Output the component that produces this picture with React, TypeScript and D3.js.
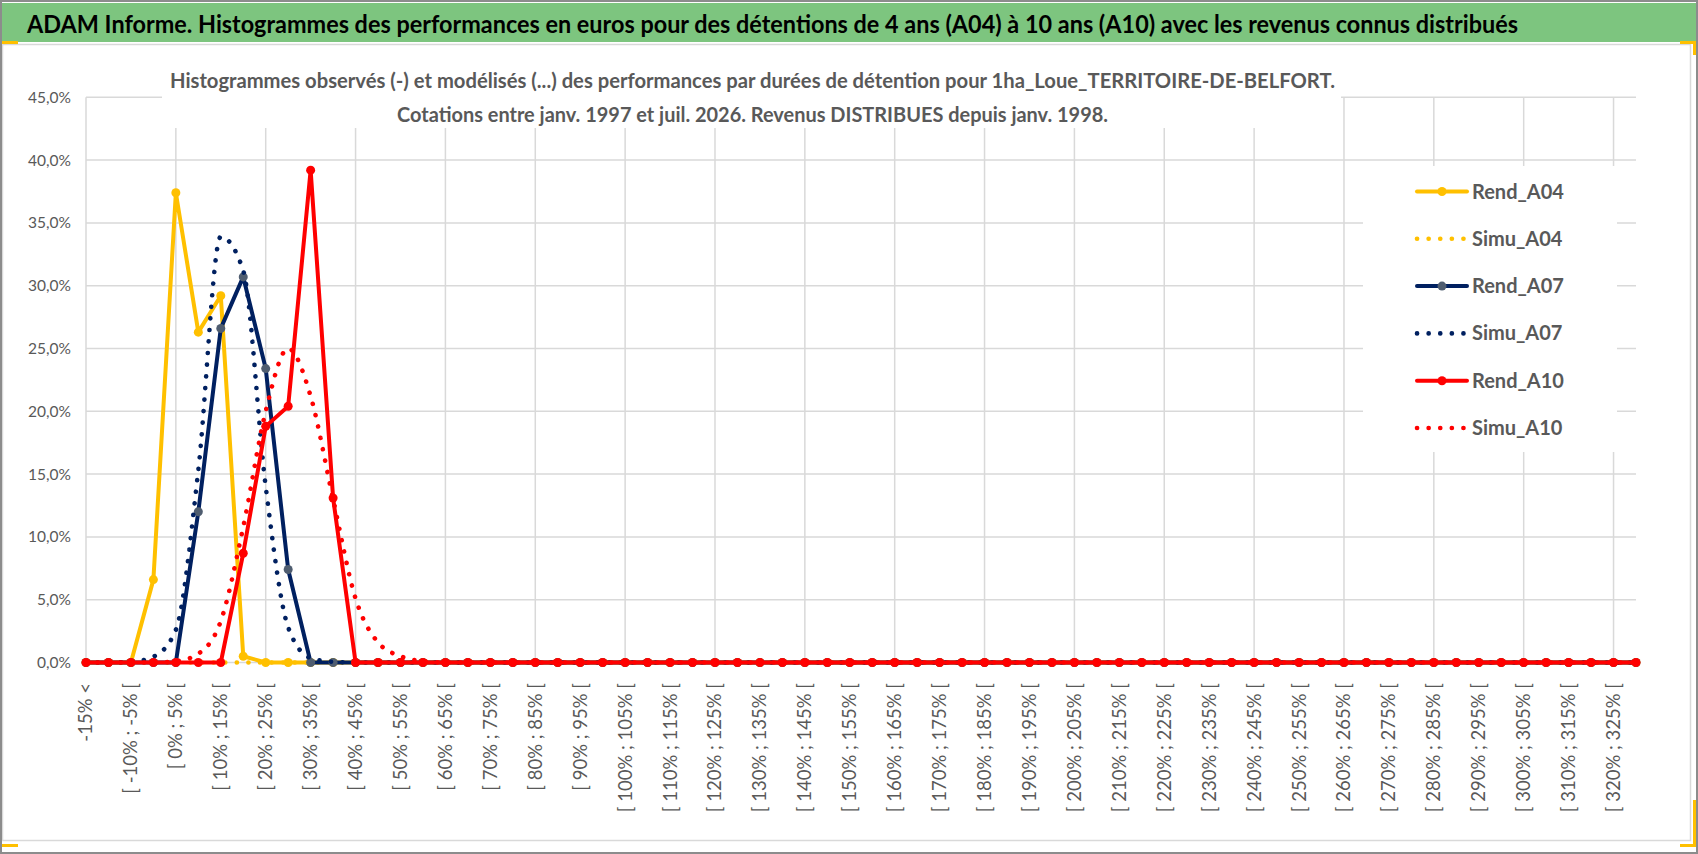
import { useEffect, useRef } from 'react';
import * as d3 from 'd3';

const WIDTH = 1698;
const HEIGHT = 854;

const TITLE = 'ADAM Informe. Histogrammes des performances en euros pour des détentions de 4 ans (A04) à 10 ans (A10) avec les revenus connus distribués';
const SUBTITLE_1 = 'Histogrammes observés (-) et modélisés (...) des performances par durées de détention pour 1ha_Loue_TERRITOIRE-DE-BELFORT.';
const SUBTITLE_2 = 'Cotations entre janv. 1997 et juil. 2026. Revenus DISTRIBUES depuis janv. 1998.';

const CATEGORIES = [
  '-15% <', '[ -15% ; -10% [', '[ -10% ; -5% [', '[ -5% ; 0% [', '[ 0% ; 5% [',
  '[ 5% ; 10% [', '[ 10% ; 15% [', '[ 15% ; 20% [', '[ 20% ; 25% [', '[ 25% ; 30% [',
  '[ 30% ; 35% [', '[ 35% ; 40% [', '[ 40% ; 45% [', '[ 45% ; 50% [', '[ 50% ; 55% [',
  '[ 55% ; 60% [', '[ 60% ; 65% [', '[ 65% ; 70% [', '[ 70% ; 75% [', '[ 75% ; 80% [',
  '[ 80% ; 85% [', '[ 85% ; 90% [', '[ 90% ; 95% [', '[ 95% ; 100% [', '[ 100% ; 105% [',
  '[ 105% ; 110% [', '[ 110% ; 115% [', '[ 115% ; 120% [', '[ 120% ; 125% [', '[ 125% ; 130% [',
  '[ 130% ; 135% [', '[ 135% ; 140% [', '[ 140% ; 145% [', '[ 145% ; 150% [', '[ 150% ; 155% [',
  '[ 155% ; 160% [', '[ 160% ; 165% [', '[ 165% ; 170% [', '[ 170% ; 175% [', '[ 175% ; 180% [',
  '[ 180% ; 185% [', '[ 185% ; 190% [', '[ 190% ; 195% [', '[ 195% ; 200% [', '[ 200% ; 205% [',
  '[ 205% ; 210% [', '[ 210% ; 215% [', '[ 215% ; 220% [', '[ 220% ; 225% [', '[ 225% ; 230% [',
  '[ 230% ; 235% [', '[ 235% ; 240% [', '[ 240% ; 245% [', '[ 245% ; 250% [', '[ 250% ; 255% [',
  '[ 255% ; 260% [', '[ 260% ; 265% [', '[ 265% ; 270% [', '[ 270% ; 275% [', '[ 275% ; 280% [',
  '[ 280% ; 285% [', '[ 285% ; 290% [', '[ 290% ; 295% [', '[ 295% ; 300% [', '[ 300% ; 305% [',
  '[ 305% ; 310% [', '[ 310% ; 315% [', '[ 315% ; 320% [', '[ 320% ; 325% [', '[ 325% ; 330% [',
];

// values in %, one per category
const REND_A04 = [
  0, 0, 0, 6.6, 37.4, 26.3, 29.2, 0.5, 0, 0,
  0, 0, 0, 0, 0, 0, 0, 0, 0, 0,
  0, 0, 0, 0, 0, 0, 0, 0, 0, 0,
  0, 0, 0, 0, 0, 0, 0, 0, 0, 0,
  0, 0, 0, 0, 0, 0, 0, 0, 0, 0,
  0, 0, 0, 0, 0, 0, 0, 0, 0, 0,
  0, 0, 0, 0, 0, 0, 0, 0, 0, 0,
];
const SIMU_A04 = [
  0, 0, 0, 0, 0, 0, 0, 0, 0, 0,
  0, 0, 0, 0, 0, 0, 0, 0, 0, 0,
  0, 0, 0, 0, 0, 0, 0, 0, 0, 0,
  0, 0, 0, 0, 0, 0, 0, 0, 0, 0,
  0, 0, 0, 0, 0, 0, 0, 0, 0, 0,
  0, 0, 0, 0, 0, 0, 0, 0, 0, 0,
  0, 0, 0, 0, 0, 0, 0, 0, 0, 0,
];
const REND_A07 = [
  0, 0, 0, 0, 0, 12.0, 26.6, 30.7, 23.4, 7.4,
  0, 0, 0, 0, 0, 0, 0, 0, 0, 0,
  0, 0, 0, 0, 0, 0, 0, 0, 0, 0,
  0, 0, 0, 0, 0, 0, 0, 0, 0, 0,
  0, 0, 0, 0, 0, 0, 0, 0, 0, 0,
  0, 0, 0, 0, 0, 0, 0, 0, 0, 0,
  0, 0, 0, 0, 0, 0, 0, 0, 0, 0,
];
const SIMU_A07 = [
  0, 0, 0.05, 0.46, 2.6, 15.3, 33.9, 31.2, 14.0, 2.8,
  0.35, 0.05, 0, 0, 0, 0, 0, 0, 0, 0,
  0, 0, 0, 0, 0, 0, 0, 0, 0, 0,
  0, 0, 0, 0, 0, 0, 0, 0, 0, 0,
  0, 0, 0, 0, 0, 0, 0, 0, 0, 0,
  0, 0, 0, 0, 0, 0, 0, 0, 0, 0,
  0, 0, 0, 0, 0, 0, 0, 0, 0, 0,
];
const REND_A10 = [
  0, 0, 0, 0, 0, 0, 0, 8.7, 18.8, 20.4,
  39.2, 13.1, 0, 0, 0, 0, 0, 0, 0, 0,
  0, 0, 0, 0, 0, 0, 0, 0, 0, 0,
  0, 0, 0, 0, 0, 0, 0, 0, 0, 0,
  0, 0, 0, 0, 0, 0, 0, 0, 0, 0,
  0, 0, 0, 0, 0, 0, 0, 0, 0, 0,
  0, 0, 0, 0, 0, 0, 0, 0, 0, 0,
];
const SIMU_A10 = [
  0, 0, 0, 0, 0.1, 0.7, 3.3, 10.8, 20.0, 25.0,
  21.2, 13.0, 5.1, 1.6, 0.5, 0.1, 0, 0, 0, 0,
  0, 0, 0, 0, 0, 0, 0, 0, 0, 0,
  0, 0, 0, 0, 0, 0, 0, 0, 0, 0,
  0, 0, 0, 0, 0, 0, 0, 0, 0, 0,
  0, 0, 0, 0, 0, 0, 0, 0, 0, 0,
  0, 0, 0, 0, 0, 0, 0, 0, 0, 0,
];

const Y_TICKS = [0, 5, 10, 15, 20, 25, 30, 35, 40, 45];

interface Series {
  name: string;
  values: number[];
  color: string;
  dotted: boolean;
  marker?: string;
}

const SERIES: Series[] = [
  { name: 'Rend_A04', values: REND_A04, color: '#FFC000', dotted: false, marker: '#FFC000' },
  { name: 'Simu_A04', values: SIMU_A04, color: '#FFC000', dotted: true },
  { name: 'Rend_A07', values: REND_A07, color: '#002060', dotted: false, marker: '#4f5d70' },
  { name: 'Simu_A07', values: SIMU_A07, color: '#002060', dotted: true },
  { name: 'Rend_A10', values: REND_A10, color: '#FF0000', dotted: false, marker: '#FF0000' },
  { name: 'Simu_A10', values: SIMU_A10, color: '#FF0000', dotted: true },
];

const PLOT = { left: 86, right: 1636, top: 97.3, bottom: 662.5 };
const GRID = '#d9d9d9';
const TEXT = '#595959';
const FONT = 'Lato, "Open Sans", sans-serif';

export default function App() {
  const svgRef = useRef<SVGSVGElement>(null);

  useEffect(() => {
    document.body.style.margin = '0';
    if (!svgRef.current) return;
    const svg = d3.select(svgRef.current);
    svg.selectAll('*').remove();

    const x = d3.scalePoint<string>().domain(CATEGORIES).range([PLOT.left, PLOT.right]);
    const y = d3.scaleLinear().domain([0, 45]).range([PLOT.bottom, PLOT.top]);

    svg.append('rect').attr('width', WIDTH).attr('height', HEIGHT).attr('fill', '#fff');

    // banner
    svg.append('rect')
      .attr('x', 2).attr('y', 3).attr('width', 1694).attr('height', 39)
      .attr('fill', '#7dc57f');
    svg.append('text')
      .attr('x', 27).attr('y', 33)
      .attr('font-family', FONT).attr('font-weight', 700).attr('font-size', 25)
      .attr('fill', '#000')
      .attr('textLength', 1491).attr('lengthAdjust', 'spacingAndGlyphs')
      .text(TITLE);

    // chart area
    svg.append('rect')
      .attr('x', 2.5).attr('y', 44.5).attr('width', 1688).attr('height', 796)
      .attr('fill', 'none').attr('stroke', GRID).attr('stroke-width', 1.5);

    // gridlines
    const grid = svg.append('g');
    grid.selectAll('line.h')
      .data(Y_TICKS)
      .join('line')
      .attr('class', 'h')
      .attr('x1', PLOT.left).attr('x2', PLOT.right)
      .attr('y1', d => y(d)).attr('y2', d => y(d))
      .attr('stroke', GRID).attr('stroke-width', 1.5);
    grid.selectAll('line.v')
      .data(CATEGORIES.filter((_, i) => i % 4 === 0))
      .join('line')
      .attr('class', 'v')
      .attr('x1', d => x(d)!).attr('x2', d => x(d)!)
      .attr('y1', PLOT.top).attr('y2', PLOT.bottom)
      .attr('stroke', GRID).attr('stroke-width', 1.5);

    // title box and legend box hide the grid behind them
    svg.append('rect').attr('x', 162).attr('y', 50).attr('width', 1179).attr('height', 78).attr('fill', '#fff');
    svg.append('rect').attr('x', 1363).attr('y', 166).attr('width', 254).attr('height', 286).attr('fill', '#fff');

    [SUBTITLE_1, SUBTITLE_2].forEach((t, i) => {
      svg.append('text')
        .attr('x', 752.5).attr('y', i === 0 ? 88 : 122)
        .attr('text-anchor', 'middle')
        .attr('font-family', FONT).attr('font-weight', 700).attr('font-size', 21)
        .attr('fill', TEXT)
        .attr('textLength', i === 0 ? 1165 : 711).attr('lengthAdjust', 'spacingAndGlyphs')
        .text(t);
    });

    // y axis labels
    svg.append('g').selectAll('text')
      .data(Y_TICKS)
      .join('text')
      .attr('x', 71).attr('y', d => y(d)).attr('dy', '0.35em')
      .attr('text-anchor', 'end')
      .attr('font-family', FONT).attr('font-size', 15.5).attr('fill', TEXT)
      .text(d => d3.format('.1f')(d).replace('.', ',') + '%');

    // x axis labels, one in two
    svg.append('g').selectAll('text')
      .data(CATEGORIES.filter((_, i) => i % 2 === 0))
      .join('text')
      .attr('transform', d => `translate(${x(d)},683) rotate(-90)`)
      .attr('dy', '0.35em')
      .attr('text-anchor', 'end')
      .attr('font-family', FONT).attr('font-size', 18.5).attr('fill', TEXT)
      .text(d => d);

    // series
    const solid = d3.line<number>()
      .x((_, i) => x(CATEGORIES[i])!)
      .y(d => y(d));
    const smooth = d3.line<number>()
      .x((_, i) => x(CATEGORIES[i])!)
      .y(d => y(d))
      .curve(d3.curveMonotoneX);

    const plot = svg.append('g');
    SERIES.forEach(s => {
      plot.append('path')
        .attr('d', (s.dotted ? smooth : solid)(s.values))
        .attr('fill', 'none')
        .attr('stroke', s.color)
        .attr('stroke-width', s.dotted ? 4.6 : 4)
        .attr('stroke-linecap', 'round')
        .attr('stroke-linejoin', 'round')
        .attr('stroke-dasharray', s.dotted ? '0.1 11.5' : null);
      if (s.marker) {
        plot.append('g').selectAll('circle')
          .data(s.values)
          .join('circle')
          .attr('cx', (_, i) => x(CATEGORIES[i])!)
          .attr('cy', d => y(d))
          .attr('r', 4.5)
          .attr('fill', s.marker);
      }
    });

    // legend
    const legend = svg.append('g');
    SERIES.forEach((s, i) => {
      const ly = 191.5 + i * 47.3;
      legend.append('line')
        .attr('x1', 1417).attr('x2', 1467).attr('y1', ly).attr('y2', ly)
        .attr('stroke', s.color)
        .attr('stroke-width', s.dotted ? 4.6 : 4)
        .attr('stroke-linecap', 'round')
        .attr('stroke-dasharray', s.dotted ? '0.1 11.5' : null);
      if (s.marker) {
        legend.append('circle').attr('cx', 1442).attr('cy', ly).attr('r', 4.5).attr('fill', s.marker);
      }
      legend.append('text')
        .attr('x', 1472).attr('y', ly).attr('dy', '0.35em')
        .attr('font-family', FONT).attr('font-weight', 700).attr('font-size', 20)
        .attr('fill', TEXT)
        .text(s.name);
    });

    // selection handles of the chart object
    const handles = svg.append('g').attr('fill', '#FFC000');
    handles.append('rect').attr('x', 0).attr('y', 41).attr('width', 18).attr('height', 3);
    handles.append('rect').attr('x', 1680).attr('y', 41).attr('width', 16).attr('height', 3);
    handles.append('rect').attr('x', 1693).attr('y', 41).attr('width', 3).attr('height', 14);
    handles.append('rect').attr('x', 0).attr('y', 844).attr('width', 18).attr('height', 3);
    handles.append('rect').attr('x', 1680).attr('y', 844).attr('width', 16).attr('height', 3);
    handles.append('rect').attr('x', 1693).attr('y', 800).attr('width', 3).attr('height', 47);

    // screenshot frame
    svg.append('rect')
      .attr('x', 1).attr('y', 1).attr('width', WIDTH - 2).attr('height', HEIGHT - 2)
      .attr('fill', 'none').attr('stroke', '#8c8c8c').attr('stroke-width', 2);
  }, []);

  return <svg ref={svgRef} width={WIDTH} height={HEIGHT} style={{ display: 'block' }} />;
}
